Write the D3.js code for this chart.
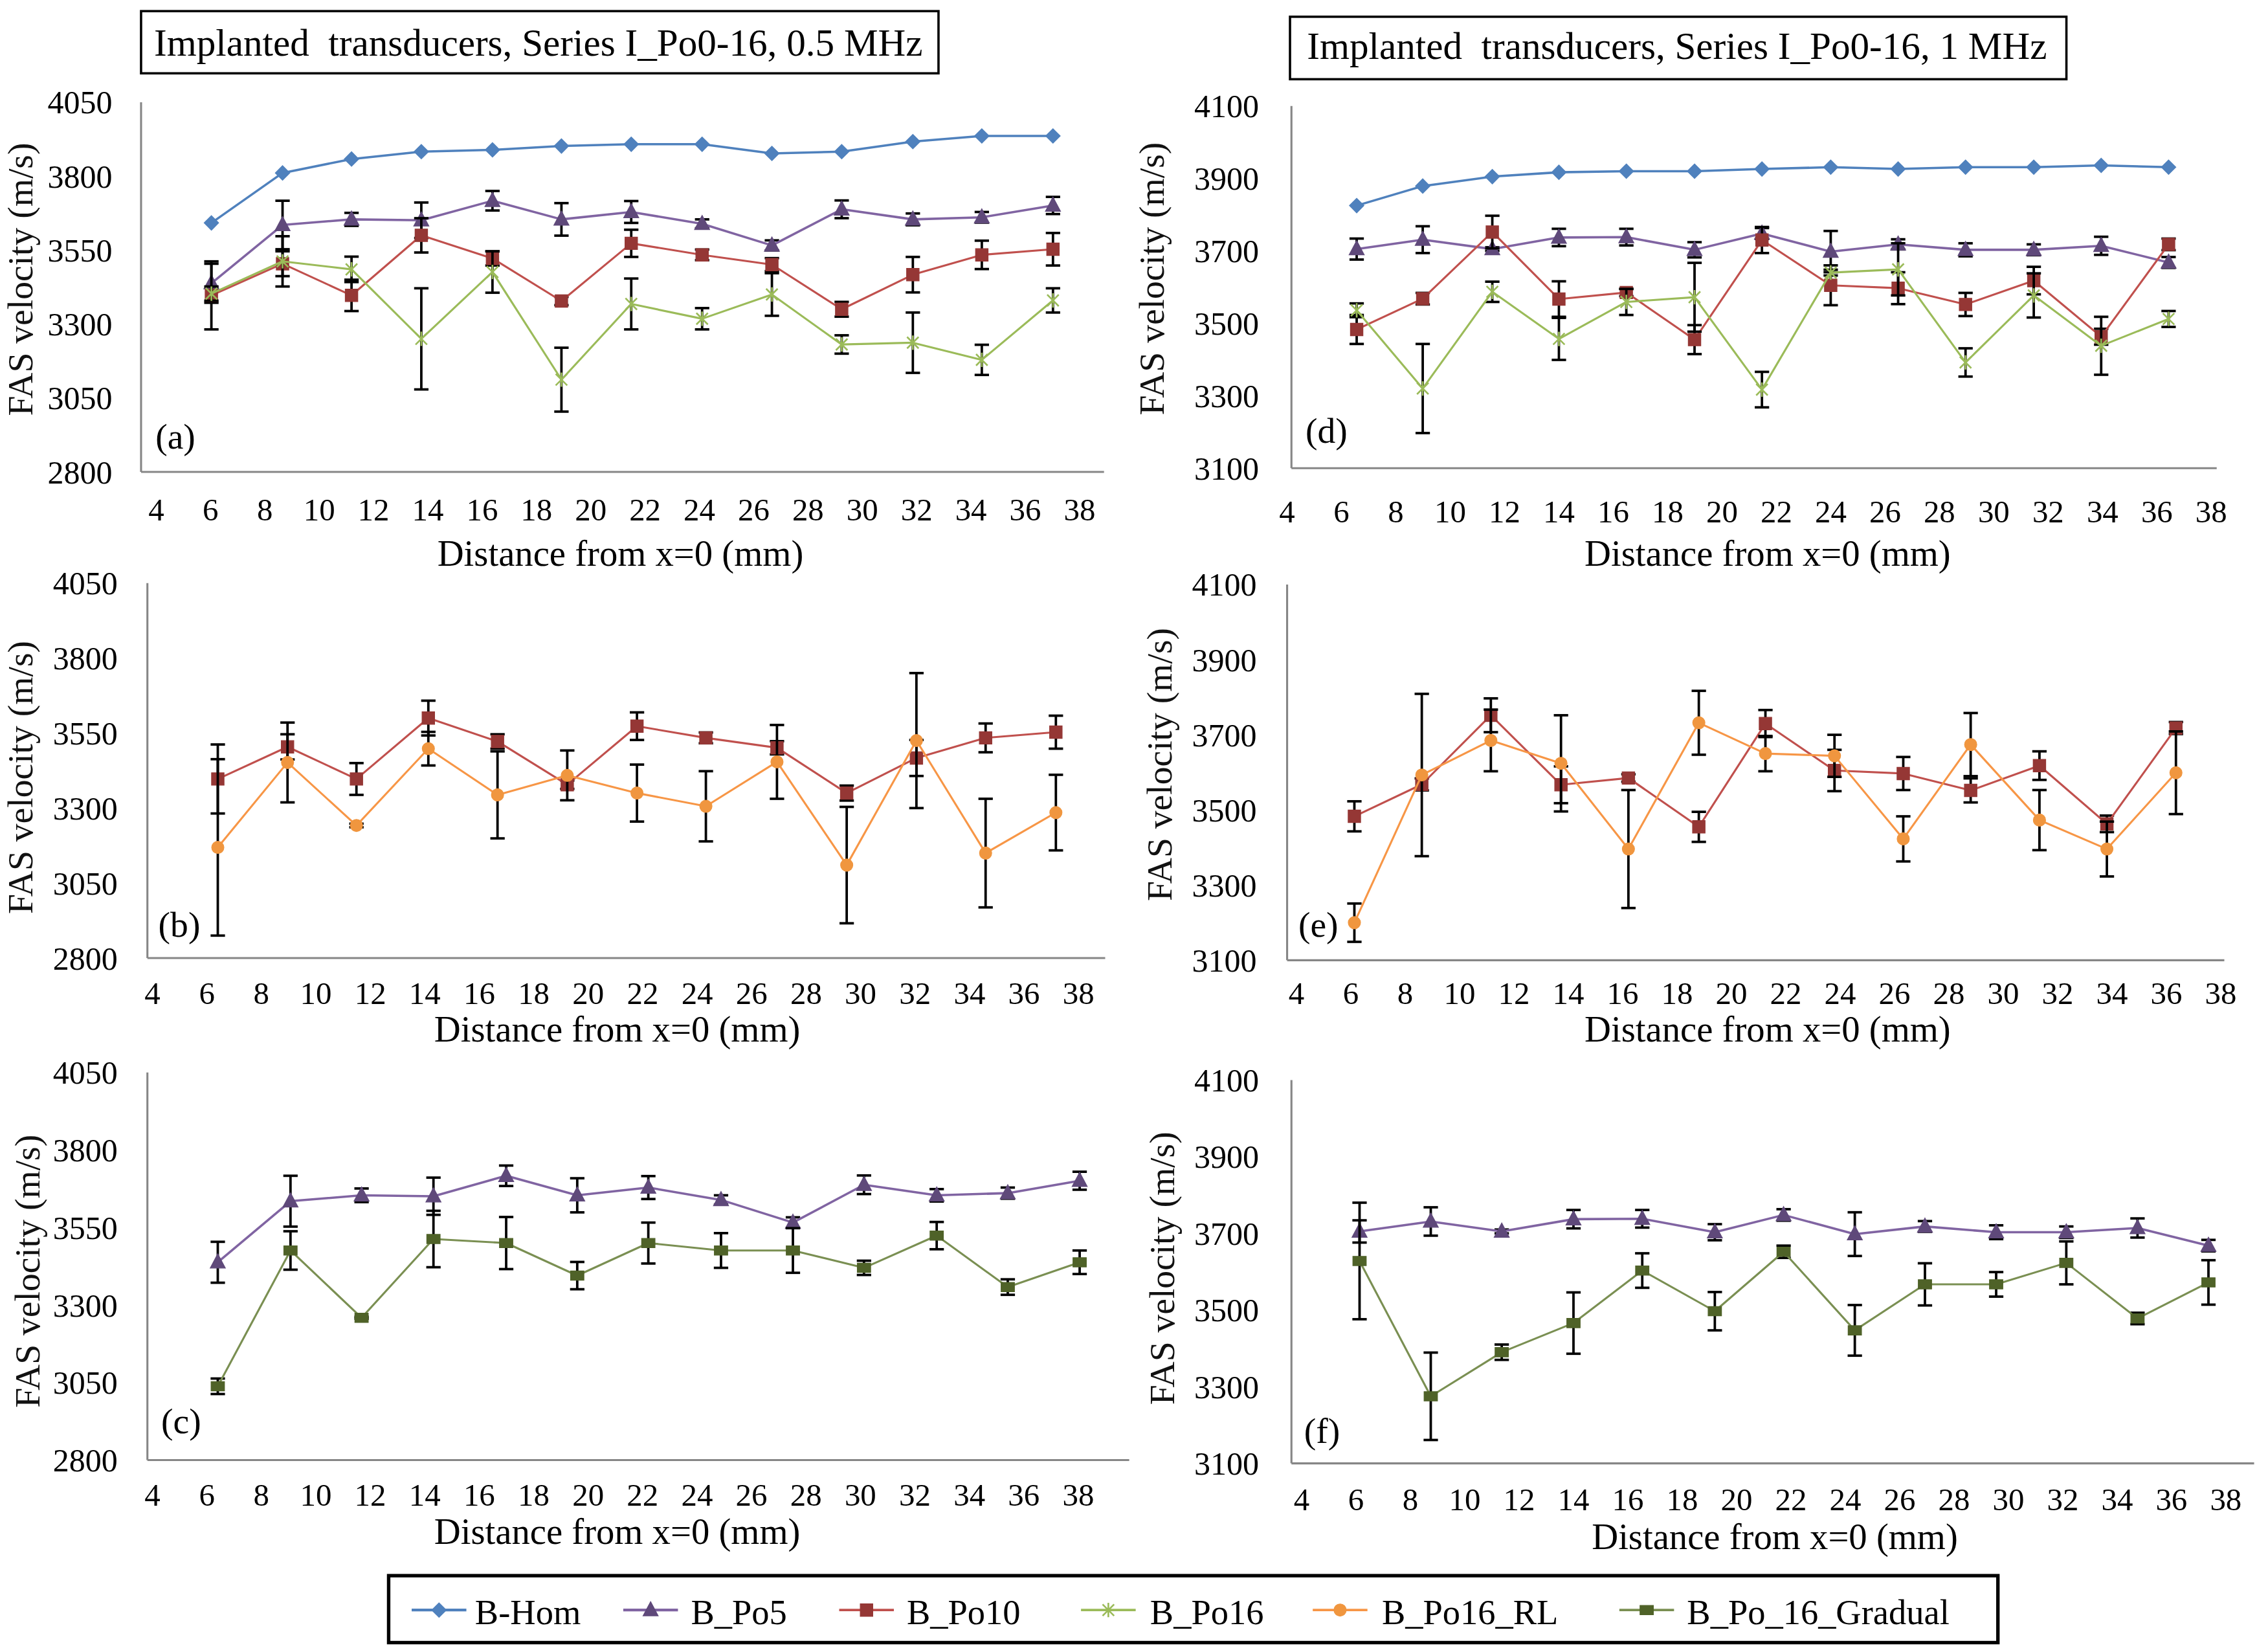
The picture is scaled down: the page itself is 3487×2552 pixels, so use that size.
<!DOCTYPE html>
<html><head><meta charset="utf-8">
<script src="https://cdn.jsdelivr.net/npm/d3@7"></script>
<style>html,body{margin:0;padding:0;background:#fff}</style>
</head><body>
<svg id="c"></svg>
<script>
// ---------------- DATA ----------------
const xTickValues = [4,6,8,10,12,14,16,18,20,22,24,26,28,30,32,34,36,38];
const yTicks05 = [2800,3050,3300,3550,3800,4050];
const yTicks1 = [3100,3300,3500,3700,3900,4100];
const seriesNames = ["B-Hom","B_Po5","B_Po10","B_Po16","B_Po16_RL","B_Po_16_Gradual"];
const titles = ["Implanted  transducers, Series I_Po0-16, 0.5 MHz", "Implanted  transducers, Series I_Po0-16, 1 MHz"];

// distance from x=0 (mm), as placed in each panel
const dist_a = [6.03, 8.65, 11.19, 13.76, 16.38, 18.92, 21.49, 24.1, 26.67, 29.24, 31.86, 34.4, 37.02];
const dist_b = [6.4, 8.96, 11.49, 14.13, 16.67, 19.23, 21.79, 24.32, 26.93, 29.49, 32.05, 34.59, 37.17];
const dist_c = [6.4, 9.07, 11.68, 14.32, 16.99, 19.6, 22.21, 24.88, 27.52, 30.13, 32.8, 35.41, 38.05];
const dist_d = [6.56, 8.99, 11.55, 14.0, 16.48, 18.99, 21.47, 24.0, 26.48, 28.96, 31.47, 33.95, 36.43];
const dist_e = [6.13, 8.61, 11.15, 13.73, 16.21, 18.8, 21.25, 23.79, 26.32, 28.8, 31.33, 33.81, 36.35];
const dist_f = [6.13, 8.75, 11.36, 14.0, 16.53, 19.2, 21.73, 24.35, 26.93, 29.55, 32.13, 34.75, 37.36];

// 0.5 MHz
const BHom_05 = [3642, 3811, 3858, 3883, 3889, 3902, 3908, 3908, 3877, 3883, 3917, 3936, 3936];
const BPo5_05 = [3438, 3635, 3654, 3651, 3717, 3654, 3679, 3639, 3566, 3688, 3654, 3661, 3701];
const BPo5_05_err = [66, 82, 22, 60, 33, 55, 37, 15, 17, 30, 20, 18, 29];
const BPo10_05 = [3397, 3504, 3397, 3600, 3522, 3378, 3573, 3534, 3501, 3350, 3467, 3534, 3553];
const BPo10_05_err = [115, 42, 53, 58, 24, 14, 46, 18, 22, 25, 60, 48, 55];
const BPo16_05 = [3403, 3512, 3485, 3250, 3476, 3112, 3368, 3318, 3400, 3231, 3237, 3179, 3380];
const BPo16_05_err = [24, 85, 43, 171, 70, 108, 86, 36, 72, 31, 102, 51, 41];
const BPo16RL_05 = [3169, 3452, 3242, 3498, 3344, 3409, 3350, 3306, 3454, 3110, 3525, 3150, 3285];
const BPo16RL_05_err = [294, 133, 6, 56, 145, 83, 95, 117, 123, 194, 225, 181, 126];
const BGrad_05 = [3038, 3476, 3259, 3513, 3500, 3395, 3500, 3476, 3476, 3420, 3524, 3358, 3438];
const BGrad_05_err = [25, 62, 3, 91, 84, 44, 66, 56, 72, 23, 44, 25, 38];

// 1 MHz
const BHom_1 = [3825, 3879, 3905, 3917, 3920, 3920, 3926, 3931, 3926, 3931, 3931, 3936, 3931];
const BPo5_1 = [3705, 3731, 3705, 3737, 3738, 3703, 3748, 3698, 3718, 3703, 3703, 3714, 3668];
const BPo5_1_err = [29, 37, 5, 24, 23, 21, 15, 57, 14, 18, 15, 25, 15];
const BPo10_1 = [3483, 3568, 3752, 3567, 3585, 3455, 3730, 3605, 3597, 3552, 3618, 3463, 3718];
const BPo10_1_err = [40, 16, 45, 49, 10, 40, 36, 55, 44, 32, 38, 22, 16];
const BPo16_1 = [3536, 3320, 3587, 3457, 3559, 3572, 3317, 3640, 3649, 3392, 3577, 3438, 3512];
const BPo16_1_err = [19, 123, 28, 58, 36, 95, 49, 8, 72, 39, 61, 80, 22];
const BPo16RL_1 = [3200, 3593, 3685, 3624, 3396, 3732, 3650, 3644, 3423, 3674, 3473, 3396, 3599];
const BPo16RL_1_err = [51, 216, 82, 128, 157, 85, 47, 56, 60, 84, 80, 73, 110];
const BGrad_1 = [3628, 3275, 3390, 3466, 3603, 3497, 3652, 3447, 3567, 3567, 3623, 3478, 3572];
const BGrad_1_err = [152, 114, 20, 80, 45, 50, 16, 66, 55, 32, 56, 15, 58];

// ---------------- STYLE / LAYOUT ----------------
const FONT = "Liberation Serif";
const styles = {
  "B-Hom": {line:"#4F81BD", fill:"#4F81BD", marker:"diamond", lw:1.6},
  "B_Po5": {line:"#8064A2", fill:"#5F497A", marker:"triangle", lw:1.6},
  "B_Po10": {line:"#C0504D", fill:"#953735", marker:"square", lw:1.4},
  "B_Po16": {line:"#9BBB59", fill:"#9BBB59", marker:"star", lw:1.4},
  "B_Po16_RL": {line:"#F79646", fill:"#F0963F", marker:"circle", lw:1.4},
  "B_Po_16_Gradual": {line:"#7A8F52", fill:"#4F6228", marker:"dash", lw:1.4}
};
const markerPaths = {
  diamond: "M0,-5L5,0L0,5L-5,0Z",
  triangle: "M0,-5.8L5.2,4L-5.2,4Z",
  square: "M-4.3,-4.3h8.6v8.6h-8.6Z",
  circle: d3.symbol(d3.symbolCircle, 56)(),
  star: "M-4,-4L4,4M-4,4L4,-4M0,-5L0,5",
  dash: "M-4.6,-3.2h9.2v6.4h-9.2Z"
};

const panels = [
  {tag:"(a)", left:98, right:767, top:71, bottom:327.8, xd:[3.44,38.9], yd:[2800,4050], yt:yTicks05, dist:dist_a,
   series:[["B-Hom",BHom_05,null],["B_Po5",BPo5_05,BPo5_05_err],["B_Po10",BPo10_05,BPo10_05_err],["B_Po16",BPo16_05,BPo16_05_err]],
   yLabR:78, xLabY:354, xtX:431, xtY:393, ytX:22.5, ytY:194, tagX:108, tagY:311.5},
  {tag:"(b)", left:102.4, right:767.8, top:405, bottom:665.5, xd:[3.815,38.98], yd:[2800,4050], yt:yTicks05, dist:dist_b,
   series:[["B_Po10",BPo10_05,BPo10_05_err],["B_Po16_RL",BPo16RL_05,BPo16RL_05_err]],
   yLabR:81.7, xLabY:689.8, xtX:428.8, xtY:723.3, ytX:22.5, ytY:540, tagX:110, tagY:650.5},
  {tag:"(c)", left:102.4, right:784.5, top:745, bottom:1014.2, xd:[3.815,39.87], yd:[2800,4050], yt:yTicks05, dist:dist_c,
   series:[["B_Po5",BPo5_05,BPo5_05_err],["B_Po_16_Gradual",BGrad_05,BGrad_05_err]],
   yLabR:81.7, xLabY:1038, xtX:428.8, xtY:1072.5, ytX:27.5, ytY:883, tagX:112, tagY:995.5},
  {tag:"(d)", left:897.2, right:1540, top:73.6, bottom:325.2, xd:[4.16,38.2], yd:[3100,4100], yt:yTicks1, dist:dist_d,
   series:[["B-Hom",BHom_1,null],["B_Po5",BPo5_1,BPo5_1_err],["B_Po10",BPo10_1,BPo10_1_err],["B_Po16",BPo16_1,BPo16_1_err]],
   yLabR:874.6, xLabY:355, xtX:1228, xtY:393, ytX:808.5, ytY:193.6, tagX:907, tagY:307.5},
  {tag:"(e)", left:894.2, right:1545.3, top:406, bottom:667, xd:[3.656,38.13], yd:[3100,4100], yt:yTicks1, dist:dist_e,
   series:[["B_Po10",BPo10_1,BPo10_1_err],["B_Po16_RL",BPo16RL_1,BPo16RL_1_err]],
   yLabR:873, xLabY:689.8, xtX:1228, xtY:723.3, ytX:813.8, ytY:531, tagX:902, tagY:650.5},
  {tag:"(f)", left:897.2, right:1566, top:750.2, bottom:1016.5, xd:[3.624,39.04], yd:[3100,4100], yt:yTicks1, dist:dist_f,
   series:[["B_Po5",BPo5_1,BPo5_1_err],["B_Po_16_Gradual",BGrad_1,BGrad_1_err]],
   yLabR:874.6, xLabY:1041.5, xtX:1233, xtY:1076, ytX:815.5, ytY:881, tagX:906, tagY:1002.5}
];

// ---------------- DRAW ----------------
const W = 1568, H = 1147.5;
const svg = d3.select("#c").attr("width",3487).attr("height",2552)
  .attr("viewBox",`0 0 ${W} ${H}`).style("display","block");
svg.append("rect").attr("width",W).attr("height",H).attr("fill","#fff");

function txt(g){ return g.append("text").attr("font-family",FONT); }

function drawMarker(g, st, x, y){
  const p = g.append("path").attr("d", markerPaths[st.marker]).attr("transform",`translate(${x},${y})`);
  if(st.marker==="star") p.attr("fill","none").attr("stroke",st.fill).attr("stroke-width",1.2);
  else p.attr("fill",st.fill).attr("stroke",st.fill).attr("stroke-width",0.6);
}

panels.forEach(P=>{
  const g = svg.append("g");
  const x = d3.scaleLinear().domain(P.xd).range([P.left,P.right]);
  const y = d3.scaleLinear().domain(P.yd).range([P.bottom,P.top]);

  g.append("line").attr("x1",P.left).attr("x2",P.left).attr("y1",y(P.yd[1])).attr("y2",P.bottom)
    .attr("stroke","#868686").attr("stroke-width",1.4);
  g.append("line").attr("x1",P.left).attr("x2",P.right).attr("y1",P.bottom).attr("y2",P.bottom)
    .attr("stroke","#868686").attr("stroke-width",1.4);

  P.yt.forEach(d=>{
    txt(g).attr("x",P.yLabR).attr("y",y(d)).attr("dy","0.35em").attr("text-anchor","end")
      .attr("font-size",22.5).attr("fill","#000").text(d);
  });
  xTickValues.forEach(d=>{
    txt(g).attr("x",x(d)).attr("y",P.xLabY).attr("dy","0.35em").attr("text-anchor","middle")
      .attr("font-size",22).attr("fill","#000").text(d);
  });
  txt(g).attr("x",P.xtX).attr("y",P.xtY).attr("text-anchor","middle")
    .attr("font-size",25.5).attr("fill","#000").text("Distance from x=0 (mm)");
  txt(g).attr("transform",`translate(${P.ytX},${P.ytY}) rotate(-90)`).attr("text-anchor","middle")
    .attr("font-size",25).attr("fill","#111").text("FAS velocity (m/s)");
  txt(g).attr("x",P.tagX).attr("y",P.tagY).attr("font-size",25).attr("fill","#000").text(P.tag);

  P.series.forEach(([name, vals, errs])=>{
    const st = styles[name];
    const pts = vals.map((v,i)=>({x:P.dist[i], y:v, e: errs?errs[i]:0}));
    const sg = g.append("g");
    if(errs){
      pts.forEach(p=>{
        const xp=x(p.x), y1=y(p.y+p.e), y2=y(p.y-p.e);
        sg.append("line").attr("x1",xp).attr("x2",xp).attr("y1",y1).attr("y2",y2).attr("stroke","#000").attr("stroke-width",1.7);
        [y1,y2].forEach(yy=>sg.append("line").attr("x1",xp-5).attr("x2",xp+5).attr("y1",yy).attr("y2",yy).attr("stroke","#000").attr("stroke-width",1.7));
      });
    }
    sg.append("path").datum(pts)
      .attr("d", d3.line().x(d=>x(d.x)).y(d=>y(d.y)))
      .attr("fill","none").attr("stroke",st.line).attr("stroke-width",st.lw).attr("stroke-linejoin","round");
    pts.forEach(p=>drawMarker(sg, st, x(p.x), y(p.y)));
  });
});

const titleBoxes = [{x:98,y:7.7,w:554,h:43.2,tx:107,ty:38.7},{x:896.2,y:11.6,w:539.4,h:43.4,tx:908,ty:41}];
titleBoxes.forEach((b,i)=>{
  svg.append("rect").attr("x",b.x).attr("y",b.y).attr("width",b.w).attr("height",b.h)
    .attr("fill","#fff").attr("stroke","#000").attr("stroke-width",1.6);
  txt(svg).attr("x",b.tx).attr("y",b.ty).attr("font-size",26.6).attr("fill","#000")
    .attr("xml:space","preserve").style("white-space","pre").text(titles[i]);
});

const lg = svg.append("g");
lg.append("rect").attr("x",270).attr("y",1094.5).attr("width",1118).attr("height",46.5)
  .attr("fill","#fff").attr("stroke","#000").attr("stroke-width",2.4);
const legendPos = [{lx:286,tx:330},{lx:433,tx:480},{lx:583,tx:630},{lx:751,tx:799},{lx:912,tx:960},{lx:1125,tx:1172}];
seriesNames.forEach((n,i)=>{
  const st = styles[n], p = legendPos[i], ly = 1118.4;
  lg.append("line").attr("x1",p.lx).attr("x2",p.lx+38).attr("y1",ly).attr("y2",ly)
    .attr("stroke",st.line).attr("stroke-width",st.lw+0.3);
  drawMarker(lg, st, p.lx+19, ly);
  txt(lg).attr("x",p.tx).attr("y",1128).attr("font-size",24.5).attr("fill","#000").text(n);
});
</script>
</body></html>
